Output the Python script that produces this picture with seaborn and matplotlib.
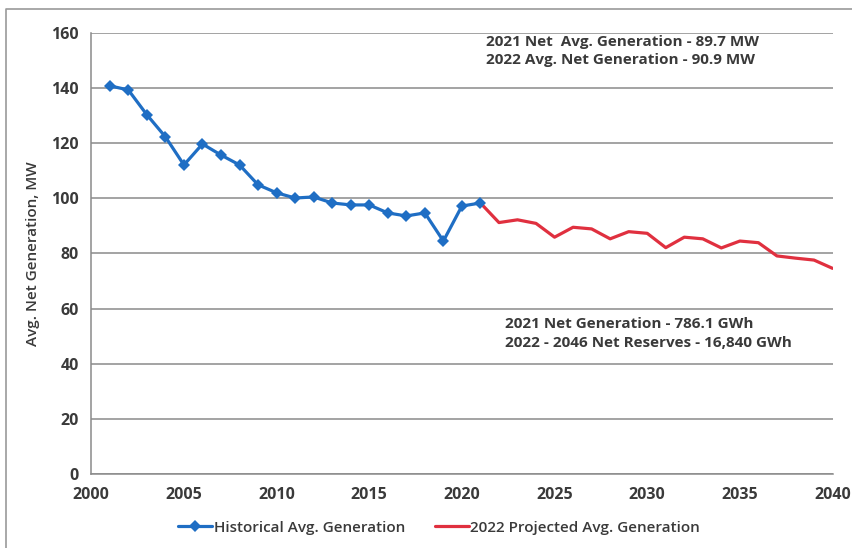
import numpy as np
import pandas as pd
import seaborn as sns
import matplotlib.pyplot as plt
from matplotlib.lines import Line2D

hist_years = list(range(2001, 2022))
hist_mw = [140.8, 139.3, 130.3, 122.3, 112.1, 119.7, 115.7, 112.1, 104.9, 102.0,
           100.1, 100.5, 98.3, 97.6, 97.6, 94.7, 93.6, 94.7, 84.5, 97.2, 98.3]

proj_years = list(range(2021, 2041))
proj_mw = [98.3, 91.2, 92.2, 90.9, 85.9, 89.5, 88.9, 85.3, 87.9, 87.3,
           82.1, 85.9, 85.3, 82.0, 84.5, 83.9, 79.1, 78.3, 77.6, 74.6]

y_ticks = [0, 20, 40, 60, 80, 100, 120, 140, 160]
x_ticks = [2000, 2005, 2010, 2015, 2020, 2025, 2030, 2035, 2040]

hist = pd.DataFrame({"year": hist_years, "mw": hist_mw})
proj = pd.DataFrame({"year": proj_years, "mw": proj_mw})

sns.set_style("white")
plt.rcParams['font.family'] = ['Open Sans', 'DejaVu Sans']
txt = "#3a3a3a"

fig, ax = plt.subplots(figsize=(8.53, 5.48), dpi=100)
fig.subplots_adjust(left=0.107, right=0.976, top=0.940, bottom=0.135)

# projected first so the historical markers sit on top at 2021
sns.lineplot(data=proj, x="year", y="mw", ax=ax, color="#e0303f", lw=2.3,
             label="2022 Projected Avg. Generation", zorder=3)
sns.lineplot(data=hist, x="year", y="mw", ax=ax, color="#1f6ec4", lw=2.3,
             marker="D", markersize=6.5, markeredgewidth=0,
             label="Historical Avg. Generation", zorder=4)

ax.set_xlim(2000, 2040)
ax.set_ylim(0, 160)
ax.set_xticks(x_ticks)
ax.set_yticks(y_ticks)
ax.yaxis.grid(True, color="#8a8a8a", lw=1.1)
ax.xaxis.grid(False)
ax.set_axisbelow(True)
for s in ["top", "right"]:
    ax.spines[s].set_visible(False)
for s in ["left", "bottom"]:
    ax.spines[s].set_color("#8a8a8a")
    ax.spines[s].set_linewidth(1.1)
ax.tick_params(axis="both", direction="out", length=5, width=1, color="#8a8a8a",
               labelsize=11.5, labelcolor=txt, pad=4)
for lab in ax.get_xticklabels() + ax.get_yticklabels():
    lab.set_fontweight("bold")
ax.set_xlabel("")
ax.set_ylabel("Avg. Net Generation, MW", fontsize=11, color=txt,
              fontweight="semibold", labelpad=8)

ax.text(2021.3, 153.5, "2021 Net  Avg. Generation - 89.7 MW\n2022 Avg. Net Generation - 90.9 MW",
        fontsize=11, fontweight="bold", color=txt, va="center", linespacing=1.4)
ax.text(2022.3, 51, "2021 Net Generation - 786.1 GWh\n2022 - 2046 Net Reserves - 16,840 GWh",
        fontsize=11, fontweight="bold", color=txt, va="center", linespacing=1.4)

handles, labels = ax.get_legend_handles_labels()
ax.get_legend().remove()
fig.legend(handles[::-1], labels[::-1], loc="center", bbox_to_anchor=(0.515, 0.037),
           ncol=2, frameon=False, handlelength=2.2, handletextpad=0.1,
           columnspacing=2.0, prop={"weight": "semibold", "size": 11})
for t in fig.legends[0].get_texts():
    t.set_color(txt)

# outer frame of the pasted chart (left and top edges)
fig.lines.append(Line2D([0.007, 0.007, 1.0], [0.0, 0.983, 0.983], transform=fig.transFigure,
                        color="#9a9a9a", lw=1.2))

fig.savefig("out.png", dpi=100)
